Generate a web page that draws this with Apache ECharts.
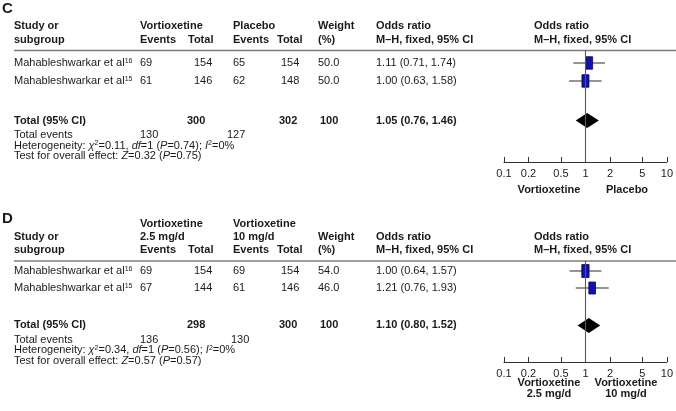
<!DOCTYPE html>
<html>
<head>
<meta charset="utf-8">
<script src="https://cdn.jsdelivr.net/npm/echarts@6/dist/echarts.min.js"></script>
<style>
  html, body { margin: 0; padding: 0; background: #fff; }
  #chart { width: 676px; height: 411px; }
</style>
</head>
<body>
<div id="chart"></div>
<script>
// ---- data: panel C (vortioxetine vs placebo) ----
const studiesC = ['Mahableshwarkar et al', 'Mahableshwarkar et al'];
const refsC = ['16', '15'];
const eventsVortC = [69, 61];
const totalVortC = [154, 146];
const eventsPlacC = [65, 62];
const totalPlacC = [154, 148];
const weightC = [50.0, 50.0];
const orC = [1.11, 1.00];
const lowC = [0.71, 0.63];
const highC = [1.74, 1.58];
const pooledC = [1.05, 0.76, 1.46];       // OR, low, high
const sumsC = [300, 302, 100];             // totals + weight
const totalEventsC = [130, 127];
const hetC = ['0.11', '1', '0.74', '0'];   // chi2, df, P, I2
const testC = ['0.32', '0.75'];            // Z, P

// ---- data: panel D (2.5 mg/d vs 10 mg/d) ----
const studiesD = ['Mahableshwarkar et al', 'Mahableshwarkar et al'];
const refsD = ['16', '15'];
const events25D = [69, 67];
const total25D = [154, 144];
const events10D = [69, 61];
const total10D = [154, 146];
const weightD = [54.0, 46.0];
const orD = [1.00, 1.21];
const lowD = [0.64, 0.76];
const highD = [1.57, 1.93];
const pooledD = [1.10, 0.80, 1.52];
const sumsD = [298, 300, 100];
const totalEventsD = [136, 130];
const hetD = ['0.34', '1', '0.56', '0'];
const testD = ['0.57', '0.57'];

const tickValues = [0.1, 0.2, 0.5, 1, 2, 5, 10];

// ---- layout ----
const FF = '"Liberation Sans", Arial, Helvetica, sans-serif';
const rowPos = [0, 1];
const totalPos = 3.2;
const panels = [
  { gridTop: 50,  gridH: 112, yMin: -0.72, yMax: 5.5 },
  { gridTop: 261, gridH: 101, yMin: -0.59, yMax: 5.35 }
];
const col = { study: 14, e1: 140, t1: 194, e2: 233, t2: 281, w: 318, or: 376, plot: 534 };

const lg = v => Math.log10(v);
const rich = {
  sup: { fontSize: 7, fontFamily: FF, fill: '#222', verticalAlign: 'top', lineHeight: 9 },
  i: { fontSize: 11, fontFamily: FF, fontStyle: 'italic', fill: '#222', lineHeight: 11 }
};

function txt(x, y, text, bold, align, size) {
  return {
    type: 'text', x: x, y: y, silent: true,
    style: {
      text: text, fill: '#1a1a1a',
      fontSize: size || 11, fontFamily: FF, fontWeight: bold ? 'bold' : 'normal',
      align: align || 'left', verticalAlign: 'middle',
      textAlign: align || 'left', textVerticalAlign: 'middle',
      rich: rich
    }
  };
}

function rule(y) {
  return { type: 'line', silent: true, shape: { x1: 14, y1: y, x2: 676, y2: y },
    style: { stroke: '#7d7d7d', lineWidth: 1.6 } };
}

const g = [];
// panel C
g.push(txt(2, 9, 'C', true, 'left', 15));
[['Study or', col.study], ['Vortioxetine', col.e1], ['Placebo', col.e2], ['Weight', col.w],
 ['Odds ratio', col.or], ['Odds ratio', col.plot]].forEach(h => g.push(txt(h[1], 25.5, h[0], true)));
[['subgroup', col.study], ['Events', col.e1], ['Total', 188], ['Events', col.e2], ['Total', 277],
 ['(%)', col.w], ['M\u2013H, fixed, 95% CI', col.or], ['M\u2013H, fixed, 95% CI', col.plot]]
  .forEach(h => g.push(txt(h[1], 39.5, h[0], true)));
g.push(rule(50.5));
const rowYC = [63, 81];
studiesC.forEach((s, i) => {
  const y = rowYC[i];
  g.push(txt(col.study, y, s + '{sup|' + refsC[i] + '}'));
  g.push(txt(col.e1, y, String(eventsVortC[i])));
  g.push(txt(col.t1, y, String(totalVortC[i])));
  g.push(txt(col.e2, y, String(eventsPlacC[i])));
  g.push(txt(col.t2, y, String(totalPlacC[i])));
  g.push(txt(col.w, y, weightC[i].toFixed(1)));
  g.push(txt(col.or, y, orC[i].toFixed(2) + ' (' + lowC[i].toFixed(2) + ', ' + highC[i].toFixed(2) + ')'));
});
g.push(txt(col.study, 121, 'Total (95% CI)', true));
g.push(txt(187, 121, String(sumsC[0]), true));
g.push(txt(279, 121, String(sumsC[1]), true));
g.push(txt(320, 121, String(sumsC[2]), true));
g.push(txt(col.or, 121, pooledC[0].toFixed(2) + ' (' + pooledC[1].toFixed(2) + ', ' + pooledC[2].toFixed(2) + ')', true));
g.push(txt(col.study, 135, 'Total events'));
g.push(txt(140, 135, String(totalEventsC[0])));
g.push(txt(227, 135, String(totalEventsC[1])));
g.push(txt(col.study, 145.5, 'Heterogeneity: {i|\u03c7}{sup|2}=' + hetC[0] + ', {i|df}=' + hetC[1] +
  ' ({i|P}=' + hetC[2] + '); {i|I}{sup|2}=' + hetC[3] + '%'));
g.push(txt(col.study, 156, 'Test for overall effect: {i|Z}=' + testC[0] + ' ({i|P}=' + testC[1] + ')'));
g.push(txt(549, 189.5, 'Vortioxetine', true, 'center'));
g.push(txt(627, 189.5, 'Placebo', true, 'center'));

// panel D
g.push(txt(2, 219, 'D', true, 'left', 15));
g.push(txt(col.e1, 224, 'Vortioxetine', true));
g.push(txt(col.e2, 224, 'Vortioxetine', true));
[['Study or', col.study], ['2.5 mg/d', col.e1], ['10 mg/d', col.e2], ['Weight', col.w],
 ['Odds ratio', col.or], ['Odds ratio', col.plot]].forEach(h => g.push(txt(h[1], 237, h[0], true)));
[['subgroup', col.study], ['Events', col.e1], ['Total', 188], ['Events', col.e2], ['Total', 277],
 ['(%)', col.w], ['M\u2013H, fixed, 95% CI', col.or], ['M\u2013H, fixed, 95% CI', col.plot]]
  .forEach(h => g.push(txt(h[1], 250, h[0], true)));
g.push(rule(261));
const rowYD = [271, 288];
studiesD.forEach((s, i) => {
  const y = rowYD[i];
  g.push(txt(col.study, y, s + '{sup|' + refsD[i] + '}'));
  g.push(txt(col.e1, y, String(events25D[i])));
  g.push(txt(col.t1, y, String(total25D[i])));
  g.push(txt(col.e2, y, String(events10D[i])));
  g.push(txt(col.t2, y, String(total10D[i])));
  g.push(txt(col.w, y, weightD[i].toFixed(1)));
  g.push(txt(col.or, y, orD[i].toFixed(2) + ' (' + lowD[i].toFixed(2) + ', ' + highD[i].toFixed(2) + ')'));
});
g.push(txt(col.study, 325, 'Total (95% CI)', true));
g.push(txt(187, 325, String(sumsD[0]), true));
g.push(txt(279, 325, String(sumsD[1]), true));
g.push(txt(320, 325, String(sumsD[2]), true));
g.push(txt(col.or, 325, pooledD[0].toFixed(2) + ' (' + pooledD[1].toFixed(2) + ', ' + pooledD[2].toFixed(2) + ')', true));
g.push(txt(col.study, 339.5, 'Total events'));
g.push(txt(140, 339.5, String(totalEventsD[0])));
g.push(txt(231, 339.5, String(totalEventsD[1])));
g.push(txt(col.study, 350, 'Heterogeneity: {i|\u03c7}{sup|2}=' + hetD[0] + ', {i|df}=' + hetD[1] +
  ' ({i|P}=' + hetD[2] + '); {i|I}{sup|2}=' + hetD[3] + '%'));
g.push(txt(col.study, 360.5, 'Test for overall effect: {i|Z}=' + testD[0] + ' ({i|P}=' + testD[1] + ')'));
g.push(txt(549, 383, 'Vortioxetine', true, 'center'));
g.push(txt(549, 394, '2.5 mg/d', true, 'center'));
g.push(txt(626, 383, 'Vortioxetine', true, 'center'));
g.push(txt(626, 394, '10 mg/d', true, 'center'));

// ---- forest plot marks ----
function studyItem(params, api) {
  const row = api.value(0);
  const c = api.coord([api.value(1), row]);
  const lo = api.coord([api.value(2), row]);
  const hi = api.coord([api.value(3), row]);
  const s = Math.sqrt(api.value(4) / 50);
  const w = 7 * s, h = 12.5 * s;
  return {
    type: 'group',
    children: [
      { type: 'line', shape: { x1: lo[0], y1: lo[1], x2: hi[0], y2: hi[1] },
        style: { stroke: '#2a2a2a', lineWidth: 1.1 } },
      { type: 'rect', shape: { x: c[0] - w / 2, y: c[1] - h / 2, width: w, height: h },
        style: { fill: '#1212a8', stroke: '#08085e', lineWidth: 0.8 } }
    ]
  };
}
function pooledItem(params, api) {
  const row = api.value(0);
  const c = api.coord([api.value(1), row]);
  const lo = api.coord([api.value(2), row]);
  const hi = api.coord([api.value(3), row]);
  const h = 7.5;
  return {
    type: 'polygon',
    shape: { points: [[lo[0], c[1]], [c[0], c[1] - h], [hi[0], c[1]], [c[0], c[1] + h]] },
    style: { fill: '#000' }
  };
}

const tickLogs = tickValues.map(lg);
function fmtTick(v) { return String(Number(Math.pow(10, v).toPrecision(2))); }

const grids = [], xAxes = [], yAxes = [], series = [];
const sets = [
  { or: orC, low: lowC, high: highC, w: weightC, pooled: pooledC },
  { or: orD, low: lowD, high: highD, w: weightD, pooled: pooledD }
];
panels.forEach((p, k) => {
  grids.push({ left: 504, width: 166, top: p.gridTop, height: p.gridH });
  xAxes.push({
    type: 'value', gridIndex: k, min: -1, max: 1,
    axisLine: { show: true, onZero: false, lineStyle: { color: '#333', width: 1 } },
    axisTick: { show: true, inside: true, length: 5, customValues: tickLogs, lineStyle: { color: '#333' } },
    axisLabel: { customValues: tickLogs, formatter: fmtTick, fontSize: 11, fontFamily: FF, color: '#222', margin: 6 },
    splitLine: { show: false }
  });
  yAxes.push({ type: 'value', gridIndex: k, inverse: true, min: p.yMin, max: p.yMax, show: false });
  const d = sets[k];
  series.push({
    type: 'custom', xAxisIndex: k, yAxisIndex: k, renderItem: studyItem, silent: true,
    encode: { x: [1, 2, 3], y: 0 },
    data: d.or.map((v, i) => [rowPos[i], lg(v), lg(d.low[i]), lg(d.high[i]), d.w[i]]),
    markLine: {
      silent: true, symbol: 'none', label: { show: false },
      lineStyle: { color: '#5a5a5a', width: 1.1, type: 'solid' },
      data: [{ xAxis: 0 }]
    },
    z: 3
  });
  series.push({
    type: 'custom', xAxisIndex: k, yAxisIndex: k, renderItem: pooledItem, silent: true,
    encode: { x: [1, 2, 3], y: 0 },
    data: [[totalPos, lg(d.pooled[0]), lg(d.pooled[1]), lg(d.pooled[2])]],
    z: 3
  });
});

const chart = echarts.init(document.getElementById('chart'));
chart.setOption({
  backgroundColor: '#fff',
  animation: false,
  grid: grids,
  xAxis: xAxes,
  yAxis: yAxes,
  series: series,
  graphic: { elements: g }
});
</script>
</body>
</html>
